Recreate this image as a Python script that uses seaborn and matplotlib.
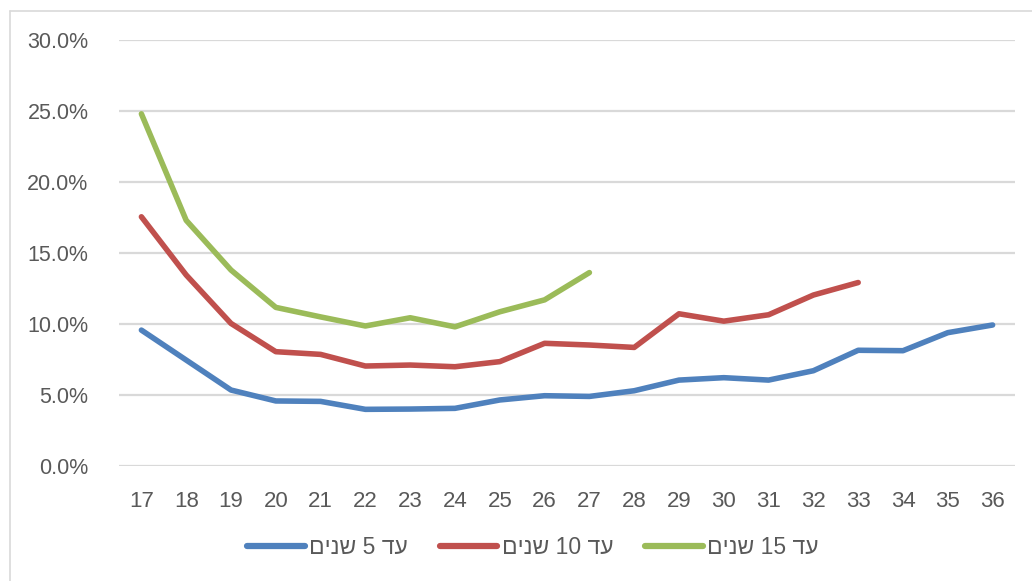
import pandas as pd
import matplotlib
matplotlib.use("Agg")
import matplotlib.pyplot as plt
from matplotlib.ticker import PercentFormatter
from matplotlib.lines import Line2D
import seaborn as sns

# ages on the x axis
ages = list(range(17, 37))

# share per age, in percent
upto_5 = [9.57, 7.46, 5.35, 4.58, 4.55, 3.99, 4.01, 4.06, 4.65, 4.95,
          4.9, 5.3, 6.05, 6.22, 6.05, 6.71, 8.15, 8.12, 9.39, 9.93]
upto_10 = [17.55, 13.45, 10.04, 8.05, 7.86, 7.04, 7.11, 6.99, 7.35, 8.64,
           8.52, 8.35, 10.72, 10.2, 10.65, 12.04, 12.92]
upto_15 = [24.8, 17.3, 13.8, 11.17, 10.5, 9.86, 10.44, 9.8, 10.86, 11.7, 13.62]

series_names = ["עד 5 שנים", "עד 10 שנים", "עד 15 שנים"]
series_values = [upto_5, upto_10, upto_15]
colors = ["#4F81BD", "#C0504D", "#9BBB59"]


def visual(s):
    # matplotlib has no bidi: put the Hebrew words in display order
    words = s.split(" ")
    out = []
    for w in reversed(words):
        out.append(w if w.isdigit() else w[::-1])
    return " ".join(out)


rows = []
for name, vals in zip(series_names, series_values):
    for a, v in zip(ages, vals):
        rows.append({"age": a, "value": v, "series": name})
df = pd.DataFrame(rows)

sns.set_theme(style="white")
plt.rcParams["font.family"] = ["Liberation Sans", "DejaVu Sans"]

fig = plt.figure(figsize=(10.32, 5.81), dpi=100)
ax = fig.add_axes([119 / 1032, 1 - 466 / 581, (1015 - 119) / 1032, (466 - 40) / 581])

sns.lineplot(data=df, x="age", y="value", hue="series", hue_order=series_names,
             palette=colors, linewidth=4, ax=ax, legend=False,
             solid_capstyle="round", solid_joinstyle="round")

ax.set_xlim(16.5, 36.5)
ax.set_ylim(0, 30)
ax.set_xticks(ages)
ax.set_yticks([0, 5, 10, 15, 20, 25, 30])
ax.yaxis.set_major_formatter(PercentFormatter(decimals=1))
ax.grid(axis="y", color="#d9d9d9", linewidth=1.6)
ax.grid(axis="x", visible=False)
ax.set_axisbelow(True)
for sp in ax.spines.values():
    sp.set_visible(False)
ax.set_xlabel("")
ax.set_ylabel("")
ax.tick_params(axis="y", length=0, pad=22, labelsize=15.5, labelcolor="#595959")
ax.tick_params(axis="x", length=0, pad=18, labelsize=16, labelcolor="#595959")

handles = [Line2D([], [], color=c, linewidth=4.5, solid_capstyle="round") for c in colors]
fig.legend(handles, [visual(n) for n in series_names], loc="center",
           bbox_to_anchor=(533 / 1032, 1 - 548 / 581), ncol=3, frameon=False,
           fontsize=16.5, labelcolor="#595959", handlelength=2.5,
           handletextpad=0.2, columnspacing=1.4)

# chart area border (only left and top visible in the crop)
fig.add_artist(Line2D([10 / 1032, 10 / 1032], [0, 1 - 11 / 581], color="#d9d9d9",
                      linewidth=1.2, transform=fig.transFigure))
fig.add_artist(Line2D([10 / 1032, 1], [1 - 11 / 581, 1 - 11 / 581], color="#d9d9d9",
                      linewidth=1.2, transform=fig.transFigure))

fig.savefig("out.png", dpi=100)
